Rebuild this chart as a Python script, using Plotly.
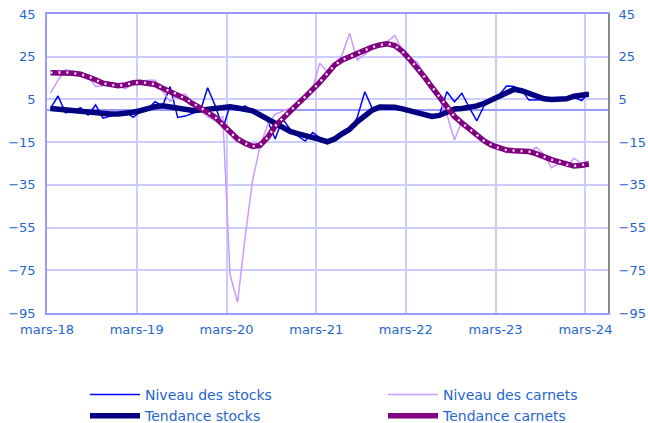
import pandas as pd
import plotly.graph_objects as go

# Monthly observations, March 2018 -> March 2024 (73 months)
months = pd.date_range("2018-03-01", periods=73, freq="MS") + pd.Timedelta(days=14)

niveau_stocks = [
    0.8, 6.6, -1.2, -0.8, 1.1, -2.3, 2.4, -3.8, -2.8, -1.8, -0.8, -3.4,
    -0.8, 0.5, 3.9, 2.0, 11.0, -3.4, -2.8, -1.5, -0.5, 10.5, 2.0, -8.5,
    2.0, 0.0, 2.0, -0.5, -3.0, -5.0, -13.5, -4.0, -9.0, -12.0, -14.5, -10.5,
    -13.0, -15.5, -13.5, -12.0, -10.0, -3.5, 8.6, 0.8, 1.6, 1.8, 1.0, 0.5,
    -0.5, -1.5, -2.0, -3.2, -2.5, 8.6, 3.9, 7.9, 1.0, -5.0, 2.4, 4.5,
    7.0, 11.3, 11.0, 9.5, 4.7, 4.7, 5.0, 5.0, 5.0, 5.5, 6.0, 4.5,
    8.0,
]

niveau_carnets = [
    8, 14, 19, 18, 17, 16, 11, 11.5, 12.5, 11, 10, 12.5,
    13.5, 14, 14, 9, 4, 7, 7.5, 3, 0, -3, -5, -3,
    -77, -90, -60, -33, -17, -7, -2, -0.5, 1, 3, 7, 10,
    22, 18, 21, 26, 36, 23.5, 26, 29, 31, 32, 35, 28,
    24, 22.7, 17, 11, 5, -2, -14, -5, -8, -11, -14, -17,
    -18, -20, -19, -19, -19.5, -17.4, -21, -27, -25, -26, -22.6, -25,
    -24,
]

tendance_stocks = [
    0.8, 0.4, 0.0, -0.2, -0.4, -0.8, -1.2, -1.5, -1.8, -1.8, -1.6, -1.0,
    -0.3, 0.8, 1.6, 2.0, 1.4, 0.5, -0.2, -0.2, 0.0, 0.5, 1.0, 1.5,
    1.6, 1.0, 0.3, -0.3, -2.2, -4.3, -6.5, -8.2, -10.0, -11.0, -11.8, -12.4,
    -13.7, -14.8, -13.5, -11.0, -9.0, -5.5, -2.5, 0.0, 1.5, 1.6, 1.3, 0.6,
    -0.3, -1.2, -2.2, -3.0, -2.5, -1.0, 0.5, 0.8, 1.2, 2.0, 3.2, 4.8,
    6.5, 8.5, 9.7, 9.1, 7.8, 6.2, 5.3, 5.0, 5.0, 5.3, 6.5, 7.1,
    7.4,
]

tendance_carnets = [
    17.5, 17.6, 17.7, 17.3, 16.8, 15.8, 14.2, 12.6, 11.8, 11.4, 11.8, 12.8,
    13.0, 12.7, 12.0, 10.2, 8.8, 7.3, 5.3, 3.0, 1.2, -1.0, -3.4, -6.8,
    -10.3, -13.5, -15.5, -17.0, -16.5, -12.8, -7.5, -3.8, -0.5, 2.8, 6.2, 9.6,
    13.0, 17.0, 21.1, 23.5, 25.0, 26.6, 28.0, 29.5, 30.5, 31.0, 30.2, 27.5,
    24.0, 20.0, 15.6, 10.8, 6.2, 1.5, -3.0, -6.0, -9.0, -11.8, -14.5, -16.5,
    -17.8, -18.7, -19.0, -19.0, -19.4, -20.5, -22.0, -23.2, -24.2, -25.5, -26.2, -25.8,
    -25.2,
]

tick_dates = ["2018-03-01", "2019-03-01", "2020-03-01", "2021-03-01",
              "2022-03-01", "2023-03-01", "2024-03-01"]
tick_labels = ["mars-18", "mars-19", "mars-20", "mars-21",
               "mars-22", "mars-23", "mars-24"]
y_ticks = [45, 25, 5, -15, -35, -55, -75, -95]

TXT = "#1f66cc"
GRID = "#ccccff"
AXIS = "#9999ff"
FONT = "DejaVu Sans"

fig = go.Figure()
fig.add_trace(go.Scatter(x=months, y=niveau_stocks, name="Niveau des stocks", mode="lines",
                         line=dict(color="#0000ff", width=1.5), legend="legend"))
fig.add_trace(go.Scatter(x=months, y=niveau_carnets, name="Niveau des carnets", mode="lines",
                         line=dict(color="#cc99ff", width=1.5), legend="legend2"))
fig.add_trace(go.Scatter(x=months, y=tendance_stocks, name="Tendance stocks", mode="lines",
                         line=dict(color="#000080", width=5.5), legend="legend"))
fig.add_trace(go.Scatter(x=months, y=tendance_carnets, name="Tendance carnets", mode="lines",
                         line=dict(color="#800080", width=5.5), legend="legend2"))
fig.add_trace(go.Scatter(x=months, y=tendance_carnets, name="Tendance carnets", mode="lines",
                         line=dict(color="#f8ecf8", width=2.4, dash="2px,6px"),
                         showlegend=False, hoverinfo="skip"))

fig.update_layout(
    width=648, height=423,
    margin=dict(l=47, r=40, t=14, b=110, autoexpand=False),
    paper_bgcolor="white", plot_bgcolor="white",
    font=dict(family=FONT, color=TXT, size=13),
    xaxis=dict(
        type="date", range=["2018-03-01", "2024-06-01"],
        tickvals=tick_dates, ticktext=tick_labels, tickangle=0,
        showgrid=True, gridcolor=GRID, gridwidth=1.5,
        showline=True, linecolor=AXIS, linewidth=1.5, mirror=True,
        ticks="", ticklabelstandoff=4, automargin=False,
        tickfont=dict(family=FONT, size=13, color=TXT),
        zeroline=False,
    ),
    yaxis=dict(
        range=[-95, 45], tickvals=y_ticks, automargin=False,
        showgrid=True, gridcolor=GRID, gridwidth=1.5,
        zeroline=True, zerolinecolor=AXIS, zerolinewidth=1.5,
        showline=True, linecolor=AXIS, linewidth=1.5,
        ticks="", ticklabelstandoff=7,
        tickfont=dict(family=FONT, size=13, color=TXT),
    ),
    yaxis2=dict(
        range=[-95, 45], tickvals=y_ticks, overlaying="y", side="right",
        anchor="x", automargin=False,
        showgrid=False, zeroline=False,
        showline=True, linecolor="#888888", linewidth=2,
        ticks="", ticklabelstandoff=6,
        tickfont=dict(family=FONT, size=13, color=TXT),
    ),
    legend=dict(x=85 / 648, y=1 - 379 / 423, xref="container", yref="container",
                xanchor="left", yanchor="top", bgcolor="rgba(0,0,0,0)",
                orientation="v",
                font=dict(family=FONT, size=14, color=TXT), itemwidth=50),
    legend2=dict(x=383 / 648, y=1 - 379 / 423, xref="container", yref="container",
                 xanchor="left", yanchor="top", bgcolor="rgba(0,0,0,0)",
                 orientation="v",
                 font=dict(family=FONT, size=14, color=TXT), itemwidth=50),
)
# a hidden trace keeps the right-hand axis drawn
fig.add_trace(go.Scatter(x=months[:1], y=[None], yaxis="y2", showlegend=False,
                         hoverinfo="skip", mode="lines"))

fig.write_html("out.html", config={"displayModeBar": False},
               post_script="document.body.style.margin='0';")
